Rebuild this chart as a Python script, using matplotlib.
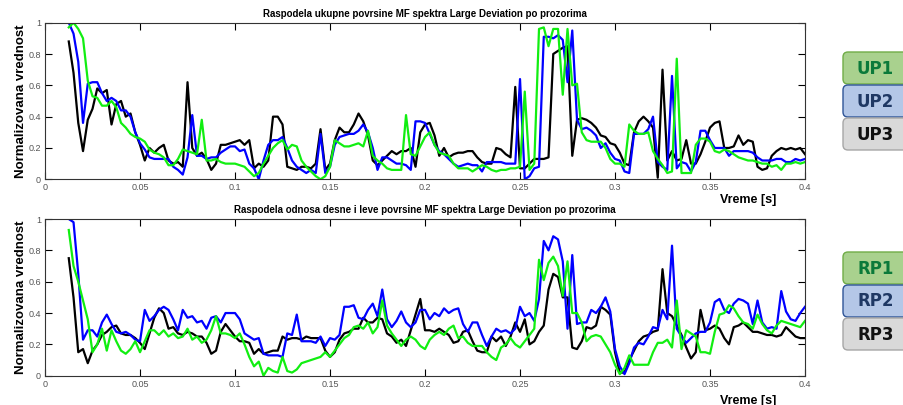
import numpy as np
import matplotlib.pyplot as plt
from matplotlib.patches import FancyBboxPatch

plt.rcParams['font.family'] = ['Liberation Sans', 'DejaVu Sans']

# common time grid [s]
t = np.arange(156) * 0.0025 + 0.0125

# top plot: total area (UP1 green, UP2 blue, UP3 black)
up1 = [0.97, 1.00, 0.96, 0.90, 0.63, 0.53, 0.52, 0.47, 0.47, 0.50,
       0.46, 0.36, 0.33, 0.29, 0.27, 0.26, 0.24, 0.19, 0.17, 0.16,
       0.14, 0.09, 0.09, 0.13, 0.19, 0.18, 0.17, 0.16, 0.38, 0.12,
       0.12, 0.13, 0.11, 0.10, 0.10, 0.10, 0.09, 0.08, 0.05, 0.02,
       0.04, 0.10, 0.15, 0.20, 0.23, 0.25, 0.19, 0.22, 0.21, 0.12,
       0.08, 0.05, 0.02, 0.00, 0.02, 0.08, 0.25, 0.23, 0.21, 0.21,
       0.22, 0.23, 0.21, 0.31, 0.15, 0.12, 0.10, 0.07, 0.06, 0.06,
       0.06, 0.41, 0.16, 0.15, 0.21, 0.27, 0.30, 0.22, 0.17, 0.16,
       0.15, 0.10, 0.07, 0.07, 0.07, 0.05, 0.07, 0.09, 0.08, 0.06,
       0.05, 0.06, 0.06, 0.07, 0.07, 0.08, 0.56, 0.06, 0.10, 0.96,
       0.97, 0.85, 0.96, 0.96, 0.54, 0.96, 0.60, 0.61, 0.30, 0.25,
       0.24, 0.24, 0.24, 0.20, 0.13, 0.10, 0.10, 0.08, 0.35, 0.31,
       0.29, 0.29, 0.30, 0.18, 0.13, 0.09, 0.04, 0.05, 0.77, 0.04,
       0.04, 0.04, 0.22, 0.26, 0.26, 0.24, 0.18, 0.17, 0.19, 0.18,
       0.16, 0.14, 0.13, 0.12, 0.12, 0.11, 0.10, 0.10, 0.08, 0.09,
       0.06, 0.10, 0.10, 0.11, 0.10, 0.11]
up2 = [1.00, 0.93, 0.75, 0.36, 0.61, 0.62, 0.62, 0.55, 0.50, 0.52,
       0.50, 0.44, 0.44, 0.40, 0.30, 0.23, 0.19, 0.14, 0.13, 0.13,
       0.13, 0.13, 0.08, 0.06, 0.03, 0.14, 0.41, 0.15, 0.15, 0.13,
       0.14, 0.14, 0.17, 0.19, 0.21, 0.21, 0.18, 0.19, 0.10, 0.07,
       0.00, 0.12, 0.22, 0.25, 0.25, 0.27, 0.20, 0.12, 0.08, 0.06,
       0.04, 0.06, 0.04, 0.29, 0.04, 0.08, 0.22, 0.27, 0.28, 0.29,
       0.29, 0.31, 0.35, 0.30, 0.20, 0.06, 0.14, 0.14, 0.12, 0.10,
       0.10, 0.09, 0.06, 0.37, 0.37, 0.36, 0.29, 0.22, 0.18, 0.16,
       0.13, 0.10, 0.08, 0.09, 0.10, 0.09, 0.09, 0.05, 0.11, 0.11,
       0.11, 0.11, 0.10, 0.10, 0.10, 0.64, 0.00, 0.02, 0.07, 0.08,
       0.91, 0.91, 0.90, 0.92, 0.89, 0.62, 0.95, 0.38, 0.32, 0.33,
       0.31, 0.28, 0.20, 0.23, 0.17, 0.13, 0.12, 0.05, 0.04, 0.29,
       0.29, 0.29, 0.32, 0.40, 0.11, 0.08, 0.06, 0.66, 0.07, 0.11,
       0.10, 0.05, 0.11, 0.31, 0.31, 0.25, 0.20, 0.20, 0.20, 0.15,
       0.18, 0.18, 0.18, 0.18, 0.17, 0.14, 0.12, 0.12, 0.12, 0.13,
       0.13, 0.11, 0.11, 0.13, 0.12, 0.13]
up3 = [0.88, 0.68, 0.36, 0.18, 0.38, 0.45, 0.58, 0.55, 0.57, 0.35,
       0.48, 0.50, 0.40, 0.42, 0.30, 0.22, 0.12, 0.20, 0.17, 0.20,
       0.22, 0.12, 0.10, 0.11, 0.08, 0.62, 0.20, 0.15, 0.17, 0.13,
       0.06, 0.10, 0.22, 0.22, 0.23, 0.24, 0.25, 0.22, 0.25, 0.07,
       0.10, 0.08, 0.12, 0.40, 0.40, 0.35, 0.08, 0.07, 0.06, 0.08,
       0.08, 0.07, 0.10, 0.32, 0.06, 0.10, 0.25, 0.33, 0.30, 0.30,
       0.35, 0.42, 0.37, 0.28, 0.12, 0.09, 0.12, 0.15, 0.18, 0.16,
       0.18, 0.18, 0.20, 0.08, 0.30, 0.35, 0.36, 0.28, 0.15, 0.20,
       0.14, 0.16, 0.17, 0.17, 0.18, 0.18, 0.14, 0.11, 0.10, 0.10,
       0.20, 0.19, 0.16, 0.14, 0.59, 0.07, 0.07, 0.10, 0.13, 0.13,
       0.13, 0.14, 0.80, 0.82, 0.84, 0.85, 0.15, 0.38, 0.39, 0.38,
       0.36, 0.33, 0.28, 0.27, 0.23, 0.22, 0.17, 0.10, 0.09, 0.30,
       0.37, 0.40, 0.37, 0.33, 0.01, 0.70, 0.12, 0.18, 0.12, 0.13,
       0.25, 0.10, 0.10, 0.16, 0.24, 0.33, 0.36, 0.37, 0.20, 0.20,
       0.21, 0.28, 0.22, 0.25, 0.24, 0.08, 0.06, 0.07, 0.15, 0.18,
       0.20, 0.19, 0.20, 0.19, 0.20, 0.16]

# bottom plot: right/left area ratio (RP1 green, RP2 blue, RP3 black)
rp1 = [0.93, 0.70, 0.60, 0.48, 0.36, 0.15, 0.20, 0.30, 0.16, 0.29,
       0.22, 0.16, 0.14, 0.17, 0.22, 0.15, 0.22, 0.29, 0.29, 0.26,
       0.29, 0.25, 0.27, 0.24, 0.25, 0.30, 0.23, 0.25, 0.21, 0.23,
       0.29, 0.38, 0.27, 0.27, 0.26, 0.24, 0.27, 0.20, 0.12, 0.06,
       0.09, 0.00, 0.05, 0.03, 0.02, 0.12, 0.03, 0.02, 0.04, 0.08,
       0.09, 0.10, 0.11, 0.12, 0.15, 0.12, 0.16, 0.20, 0.24, 0.26,
       0.31, 0.32, 0.30, 0.34, 0.27, 0.31, 0.48, 0.32, 0.27, 0.23,
       0.19, 0.23, 0.25, 0.23, 0.19, 0.17, 0.23, 0.26, 0.28, 0.26,
       0.30, 0.32, 0.24, 0.25, 0.21, 0.19, 0.19, 0.19, 0.15, 0.12,
       0.10, 0.18, 0.20, 0.24, 0.20, 0.18, 0.22, 0.26, 0.30, 0.74,
       0.61, 0.72, 0.76, 0.70, 0.51, 0.73, 0.40, 0.40, 0.34, 0.22,
       0.25, 0.26, 0.25, 0.20, 0.15, 0.07, 0.01, 0.05, 0.13, 0.07,
       0.07, 0.07, 0.07, 0.15, 0.21, 0.21, 0.23, 0.18, 0.48, 0.17,
       0.29, 0.27, 0.25, 0.15, 0.15, 0.14, 0.28, 0.39, 0.40, 0.45,
       0.43, 0.38, 0.34, 0.33, 0.30, 0.39, 0.33, 0.29, 0.27, 0.32,
       0.35, 0.34, 0.33, 0.32, 0.31, 0.35]
rp2 = [1.00, 0.98, 0.65, 0.23, 0.29, 0.29, 0.25, 0.34, 0.39, 0.33,
       0.28, 0.27, 0.28, 0.26, 0.23, 0.22, 0.42, 0.35, 0.38, 0.42,
       0.44, 0.42, 0.36, 0.29, 0.42, 0.37, 0.38, 0.34, 0.35, 0.30,
       0.37, 0.38, 0.34, 0.40, 0.40, 0.40, 0.36, 0.27, 0.25, 0.23,
       0.24, 0.14, 0.13, 0.13, 0.13, 0.12, 0.27, 0.26, 0.39, 0.22,
       0.22, 0.22, 0.21, 0.25, 0.19, 0.24, 0.23, 0.26, 0.44, 0.44,
       0.45, 0.37, 0.36, 0.42, 0.46, 0.38, 0.55, 0.36, 0.31, 0.35,
       0.41, 0.34, 0.31, 0.34, 0.42, 0.42, 0.36, 0.40, 0.38, 0.43,
       0.40, 0.42, 0.43, 0.33, 0.28, 0.34, 0.34, 0.26, 0.19, 0.25,
       0.30, 0.28, 0.29, 0.27, 0.30, 0.44, 0.38, 0.40, 0.35, 0.49,
       0.86, 0.80, 0.89, 0.87, 0.73, 0.30, 0.77, 0.33, 0.34, 0.34,
       0.42, 0.40, 0.44, 0.50, 0.41, 0.17, 0.06, 0.01, 0.08, 0.18,
       0.21, 0.20, 0.25, 0.31, 0.30, 0.42, 0.36, 0.83, 0.30, 0.25,
       0.21, 0.24, 0.27, 0.28, 0.28, 0.34, 0.47, 0.49, 0.42, 0.40,
       0.46, 0.49, 0.48, 0.46, 0.33, 0.48, 0.34, 0.30, 0.31, 0.30,
       0.54, 0.41, 0.36, 0.35, 0.40, 0.44]
rp3 = [0.75, 0.50, 0.15, 0.17, 0.08, 0.16, 0.20, 0.26, 0.28, 0.31,
       0.32, 0.27, 0.26, 0.26, 0.24, 0.21, 0.17, 0.27, 0.37, 0.43,
       0.40, 0.30, 0.31, 0.27, 0.26, 0.28, 0.27, 0.25, 0.25, 0.21,
       0.14, 0.16, 0.28, 0.33, 0.29, 0.25, 0.22, 0.22, 0.21, 0.14,
       0.17, 0.14, 0.15, 0.16, 0.16, 0.25, 0.23, 0.24, 0.24, 0.23,
       0.25, 0.24, 0.24, 0.24, 0.16, 0.12, 0.15, 0.23, 0.27, 0.28,
       0.30, 0.30, 0.37, 0.34, 0.34, 0.37, 0.36, 0.27, 0.25, 0.21,
       0.23, 0.19, 0.29, 0.39, 0.49, 0.29, 0.29, 0.28, 0.30, 0.28,
       0.26, 0.21, 0.22, 0.28, 0.29, 0.22, 0.16, 0.15, 0.15, 0.25,
       0.22, 0.25, 0.19, 0.25, 0.34, 0.28, 0.36, 0.20, 0.22, 0.28,
       0.32, 0.55, 0.65, 0.63, 0.50, 0.50, 0.18, 0.17, 0.22, 0.31,
       0.30, 0.32, 0.44, 0.42, 0.39, 0.15, 0.02, 0.02, 0.10, 0.16,
       0.22, 0.25, 0.26, 0.28, 0.29, 0.68, 0.40, 0.38, 0.32, 0.26,
       0.18, 0.11, 0.15, 0.42, 0.29, 0.30, 0.32, 0.30, 0.24, 0.20,
       0.31, 0.32, 0.34, 0.31, 0.28, 0.28, 0.27, 0.26, 0.26, 0.25,
       0.26, 0.31, 0.28, 0.25, 0.24, 0.24]

titles = ["Raspodela ukupne povrsine MF spektra Large Deviation po prozorima",
          "Raspodela odnosa desne i leve povrsine MF spektra Large Deviation po prozorima"]
xticks = [0, 0.05, 0.1, 0.15, 0.2, 0.25, 0.3, 0.35, 0.4]
xticklabels = ["0", "0.05", "0.1", "0.15", "0.2", "0.25", "0.3", "0.35", "0.4"]
yticks = [0, 0.2, 0.4, 0.6, 0.8, 1]
yticklabels = ["0", "0.2", "0.4", "0.6", "0.8", "1"]

fig = plt.figure(figsize=(9.04, 4.05), dpi=100)
ax1 = fig.add_axes([0.0498, 0.5573, 0.8407, 0.3867])
ax2 = fig.add_axes([0.0498, 0.0723, 0.8407, 0.3869])


def draw(ax, g, b, k, title, xlab_y):
    ax.plot(t, k, color='black', lw=1.6)
    ax.plot(t, b, color='#0000ff', lw=1.6)
    ax.plot(t, g, color='#11ee11', lw=1.6)
    ax.set_xlim(0, 0.4)
    ax.set_ylim(0, 1)
    ax.set_xticks(xticks)
    ax.set_xticklabels(xticklabels)
    ax.set_yticks(yticks)
    ax.set_yticklabels(yticklabels)
    ax.tick_params(direction='in', length=5, width=0.8, top=True, right=True,
                   labelsize=6.5, labelcolor='#555555', pad=3)
    for s in ax.spines.values():
        s.set_linewidth(0.8)
        s.set_color('#333333')
    ax.set_title(title, fontsize=7, fontweight='bold', pad=4)
    ax.set_ylabel("Normalizovana vrednost", fontsize=9.5, fontweight='bold', labelpad=1)
    ax.set_xlabel("Vreme [s]", fontsize=9, fontweight='bold')
    ax.xaxis.set_label_coords(0.925, xlab_y)


draw(ax1, up1, up2, up3, titles[0], -0.095)
draw(ax2, rp1, rp2, rp3, titles[1], -0.12)

# legend buttons on the right (pixel positions from top)
buttons = [("UP1", 52, '#a9d18e', '#70ad47', '#0b7a3a'),
           ("UP2", 85, '#b4c7e7', '#2f5597', '#1f3864'),
           ("UP3", 118, '#d9d9d9', '#a6a6a6', '#111111'),
           ("RP1", 252, '#a9d18e', '#70ad47', '#0b7a3a'),
           ("RP2", 285, '#b4c7e7', '#2f5597', '#1f3864'),
           ("RP3", 318, '#d9d9d9', '#a6a6a6', '#111111')]
for label, ytop, fc, ec, tc in buttons:
    y0 = (405 - ytop - 32) / 100
    box = FancyBboxPatch((8.43, y0), 0.75, 0.32, boxstyle="round,pad=0,rounding_size=0.05",
                         transform=fig.dpi_scale_trans, fc=fc, ec=ec, lw=1.0, clip_on=False)
    fig.add_artist(box)
    fig.text(8.755, y0 + 0.155, label, transform=fig.dpi_scale_trans, fontsize=12,
             fontweight='bold', family='DejaVu Sans', color=tc, ha='center', va='center')

fig.savefig('out.png', dpi=100)
